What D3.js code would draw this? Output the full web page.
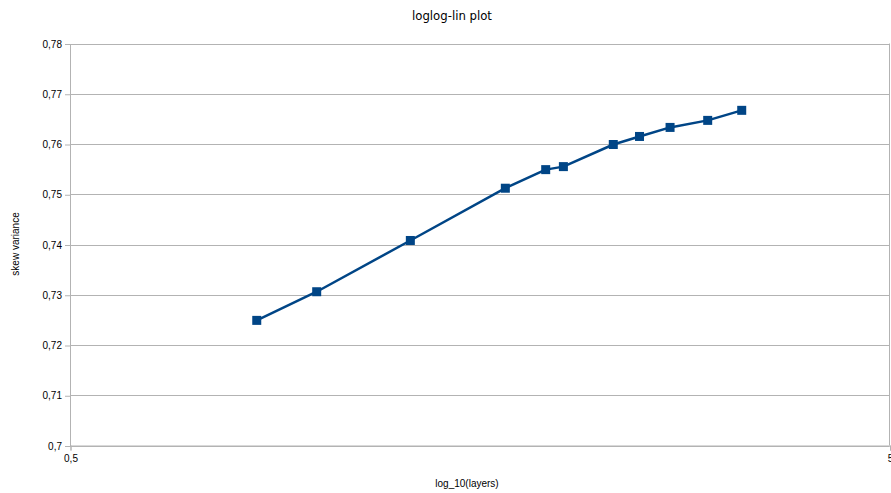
<!DOCTYPE html>
<html>
<head>
<meta charset="utf-8">
<script src="https://cdn.jsdelivr.net/npm/d3@7"></script>
<style>
  html, body { margin: 0; padding: 0; background: #fff; }
  svg { display: block; font-family: "Liberation Sans", Arial, sans-serif; }
</style>
</head>
<body>
<svg id="chart" width="891" height="493"></svg>
<script>
// log10 of the layer counts 7, 10, 20, 50, 80, 100, 200, 300, 500, 1000, 2000
const logLayers = [0.845, 1.0, 1.301, 1.699, 1.903, 2.0, 2.301, 2.477, 2.699, 3.0, 3.301];
const skewVariance = [0.7249, 0.7306, 0.7408, 0.7512, 0.7549, 0.7555, 0.7599, 0.7615, 0.7633, 0.7647, 0.7667];
const xTicks = [0.5, 5];
const yTicks = [0.70, 0.71, 0.72, 0.73, 0.74, 0.75, 0.76, 0.77, 0.78];

const svg = d3.select("#chart");
const plot = { left: 70, right: 889.5, top: 43.5, bottom: 445.5 };

const x = d3.scaleLog().domain([0.5, 5]).range([plot.left, plot.right]);
const y = d3.scaleLinear().domain([0.70, 0.78]).range([plot.bottom, plot.top]);
const fmt = v => d3.format("~g")(+(+v).toFixed(2)).replace(".", ",");

// horizontal grid
svg.append("g").selectAll("line").data(yTicks).join("line")
  .attr("x1", plot.left).attr("x2", plot.right)
  .attr("y1", d => Math.round(y(d)) + 0.5).attr("y2", d => Math.round(y(d)) + 0.5)
  .attr("stroke", "#b3b3b3").attr("stroke-width", 1);

// right border
svg.append("line").attr("x1", plot.right).attr("x2", plot.right)
  .attr("y1", plot.top).attr("y2", plot.bottom)
  .attr("stroke", "#b3b3b3");

// y axis
const yAxis = svg.append("g").attr("transform", `translate(${plot.left},0.5)`)
  .call(d3.axisLeft(y).tickValues(yTicks).tickFormat(fmt).tickSize(5).tickPadding(3));
// x axis
const xAxis = svg.append("g").attr("transform", `translate(0.5,${plot.bottom})`)
  .call(d3.axisBottom(x).tickValues(xTicks).tickFormat(fmt).tickSize(5).tickPadding(4));

[yAxis, xAxis].forEach(a => {
  a.select(".domain").attr("stroke", "#b3b3b3");
  a.selectAll(".tick line").attr("stroke", "#b3b3b3");
  a.selectAll(".tick text").attr("fill", "#000").style("font-size", "10px")
    .style("font-family", "'Liberation Sans', Arial, sans-serif");
});

// series line
const line = d3.line().x((d, i) => x(logLayers[i])).y(d => y(d));
svg.append("path").datum(skewVariance)
  .attr("d", line).attr("fill", "none")
  .attr("stroke", "#004586").attr("stroke-width", 2.5).attr("stroke-linejoin", "round");

// square markers
const m = 9;
svg.append("g").selectAll("rect").data(skewVariance).join("rect")
  .attr("x", (d, i) => x(logLayers[i]) - m / 2)
  .attr("y", d => y(d) - m / 2)
  .attr("width", m).attr("height", m)
  .attr("fill", "#004586");

// titles
svg.append("text").attr("x", 452).attr("y", 20).attr("text-anchor", "middle")
  .style("font-family", "'Liberation Sans Narrow', 'DejaVu Sans Condensed', sans-serif")
  .style("font-size", "13px").text("loglog-lin plot");
svg.append("text").attr("x", 467).attr("y", 487).attr("text-anchor", "middle")
  .style("font-size", "10px").text("log_10(layers)");
svg.append("text").attr("transform", "translate(19,244) rotate(-90)").attr("text-anchor", "middle")
  .style("font-size", "10px").text("skew variance");
</script>
</body>
</html>
